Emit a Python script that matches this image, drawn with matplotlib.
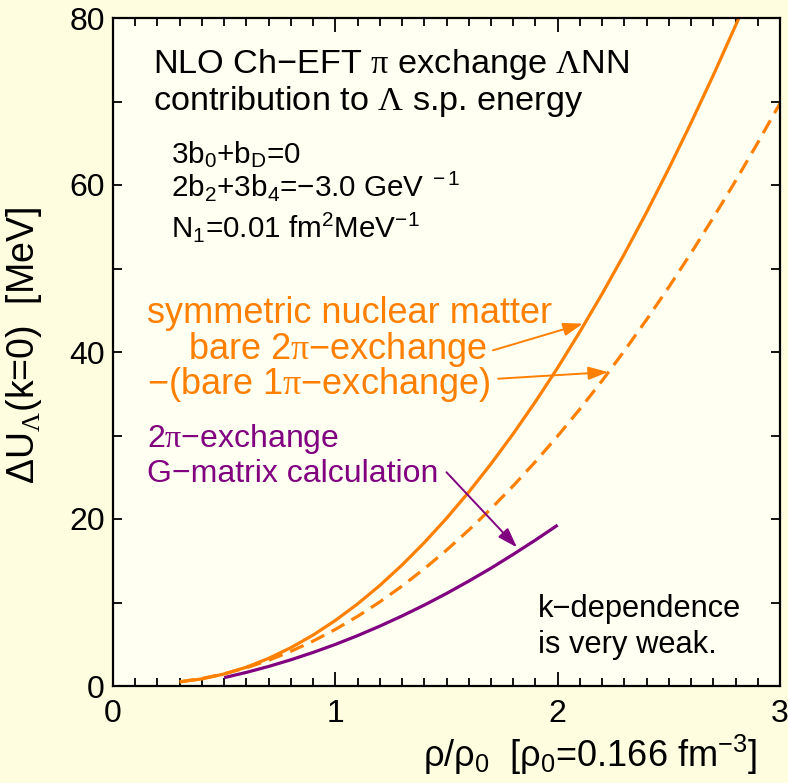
import matplotlib
matplotlib.use("Agg")
import matplotlib.pyplot as plt
from matplotlib.ticker import MultipleLocator

plt.rcParams['font.family'] = ['Liberation Sans', 'DejaVu Sans']
plt.rcParams['mathtext.fontset'] = 'custom'
plt.rcParams['mathtext.rm'] = 'Liberation Sans'
plt.rcParams['mathtext.it'] = 'Liberation Sans'
plt.rcParams['mathtext.sf'] = 'Liberation Serif'

# ---- data ----
x_bare = [0.3, 0.4, 0.5, 0.6, 0.7, 0.8, 0.9, 1.0, 1.1, 1.2, 1.3, 1.4, 1.5, 1.6,
          1.7, 1.8, 1.9, 2.0, 2.1, 2.2, 2.3, 2.4, 2.5, 2.6, 2.7, 2.8, 2.815]
y_bare = [0.5, 0.85, 1.44, 2.25, 3.31, 4.59, 6.10, 7.85, 9.83, 12.04, 14.49,
          17.17, 20.08, 23.22, 26.60, 30.21, 34.05, 38.12, 42.43, 46.97, 51.74,
          56.74, 61.98, 67.45, 73.15, 79.09, 80.0]

x_diff = [0.3, 0.4, 0.5, 0.6, 0.7, 0.8, 0.9, 1.0, 1.1, 1.2, 1.3, 1.4, 1.5, 1.6,
          1.7, 1.8, 1.9, 2.0, 2.1, 2.2, 2.3, 2.4, 2.5, 2.6, 2.7, 2.8, 2.9, 3.0]
y_diff = [0.5, 0.90, 1.46, 2.19, 3.08, 4.15, 5.38, 6.78, 8.34, 10.07, 11.97,
          14.04, 16.27, 18.67, 21.23, 23.97, 26.87, 29.94, 33.17, 36.57, 40.14,
          43.88, 47.78, 51.85, 56.09, 60.49, 65.06, 69.79]

x_gmat = [0.5, 0.6, 0.7, 0.8, 0.9, 1.0, 1.1, 1.2, 1.3, 1.4, 1.5, 1.6, 1.7, 1.8,
          1.9, 2.0]
y_gmat = [1.0, 1.63, 2.34, 3.14, 4.02, 4.98, 6.03, 7.17, 8.39, 9.69, 11.08,
          12.56, 14.11, 15.76, 17.48, 19.27]

ORANGE = '#ff8000'
PURPLE = '#800080'
W, H = 788, 783

fig = plt.figure(figsize=(W / 100, H / 100), dpi=100, facecolor='#fffde0')
ax = fig.add_axes([113 / W, 1 - 686 / H, 667 / W, 668 / H], facecolor='#fffff2')

ax.plot(x_bare, y_bare, color=ORANGE, lw=2.3, solid_capstyle='butt',
        solid_joinstyle='round')
ax.plot(x_diff, y_diff, color=ORANGE, lw=2.3, dashes=(4.6, 2.6),
        dash_joinstyle='round')
ax.plot(x_gmat, y_gmat, color=PURPLE, lw=2.3, solid_capstyle='butt',
        solid_joinstyle='round')

ax.set_xlim(0, 3)
ax.set_ylim(0, 80)
ax.xaxis.set_major_locator(MultipleLocator(1))
ax.xaxis.set_minor_locator(MultipleLocator(0.1))
ax.yaxis.set_major_locator(MultipleLocator(20))
ax.yaxis.set_minor_locator(MultipleLocator(10))
for s in ax.spines.values():
    s.set_linewidth(1.6)
ax.tick_params(axis='both', which='both', direction='in', top=True, right=True,
               width=1.3, labelsize=23)
ax.tick_params(axis='x', which='major', length=10, pad=9)
ax.tick_params(axis='x', which='minor', length=6)
ax.tick_params(axis='y', which='major', length=6.5, pad=6)
ax.tick_params(axis='y', which='minor', length=6.5)


def P(x, y):
    return (x / W, 1 - y / H)


def ftext(x, y, s, **kw):
    fig.text(*P(x, y), s, va='baseline', ha='left', **kw)


# title block
ftext(153, 73, r'NLO Ch−EFT $\mathsf{\pi}$ exchange $\mathsf{\Lambda}$NN', fontsize=24.7, color='black')
ftext(153, 110, r'contribution to $\mathsf{\Lambda}$ s.p. energy', fontsize=24.7, color='black')
ftext(171, 163, r'3b$_0$+b$_D$=0', fontsize=21.3, color='black')
ftext(171, 196, r'2b$_2$+3b$_4$=−3.0 GeV$^{\ -1}$', fontsize=21.3, color='black')
ftext(171, 237, r'N$_1$=0.01 fm$^2$MeV$^{-1}$', fontsize=21.3, color='black')

# orange labels
ftext(147, 323, 'symmetric nuclear matter', fontsize=26, color=ORANGE)
ftext(188, 359, r'bare 2$\mathsf{\pi}$−exchange', fontsize=26, color=ORANGE)
ftext(147, 394, r'−(bare 1$\mathsf{\pi}$−exchange)', fontsize=26, color=ORANGE)

# purple labels
ftext(147, 447, r'2$\mathsf{\pi}$−exchange', fontsize=23, color=PURPLE)
ftext(147, 482, 'G−matrix calculation', fontsize=23, color=PURPLE)

ftext(538, 617, 'k−dependence', fontsize=22.2, color='black')
ftext(538, 653, 'is very weak.', fontsize=22.2, color='black')

# arrows
ap = dict(arrowstyle='-|>,head_length=0.6,head_width=0.2', lw=1.4,
          shrinkA=0, shrinkB=0, mutation_scale=20)
ax.annotate('', xy=(2.114, 43.4), xytext=(1.709, 40.2),
            arrowprops=dict(color=ORANGE, **ap))
ax.annotate('', xy=(2.227, 37.6), xytext=(1.732, 36.8),
            arrowprops=dict(color=ORANGE, **ap))
ax.annotate('', xy=(1.817, 16.6), xytext=(1.50, 25.6),
            arrowprops=dict(color=PURPLE, **ap))

# axis labels
ftext(423, 767, r'ρ/ρ$_0$  [ρ$_0$=0.166 fm$^{-3}$]', fontsize=26, color='black')
fig.text(*P(44, 484), r'ΔU$_{\mathsf{\Lambda}}$(k=0)  [MeV]', rotation=90,
         ha='right', va='bottom', fontsize=27, color='black')

fig.savefig('out.png', dpi=100, facecolor=fig.get_facecolor())
